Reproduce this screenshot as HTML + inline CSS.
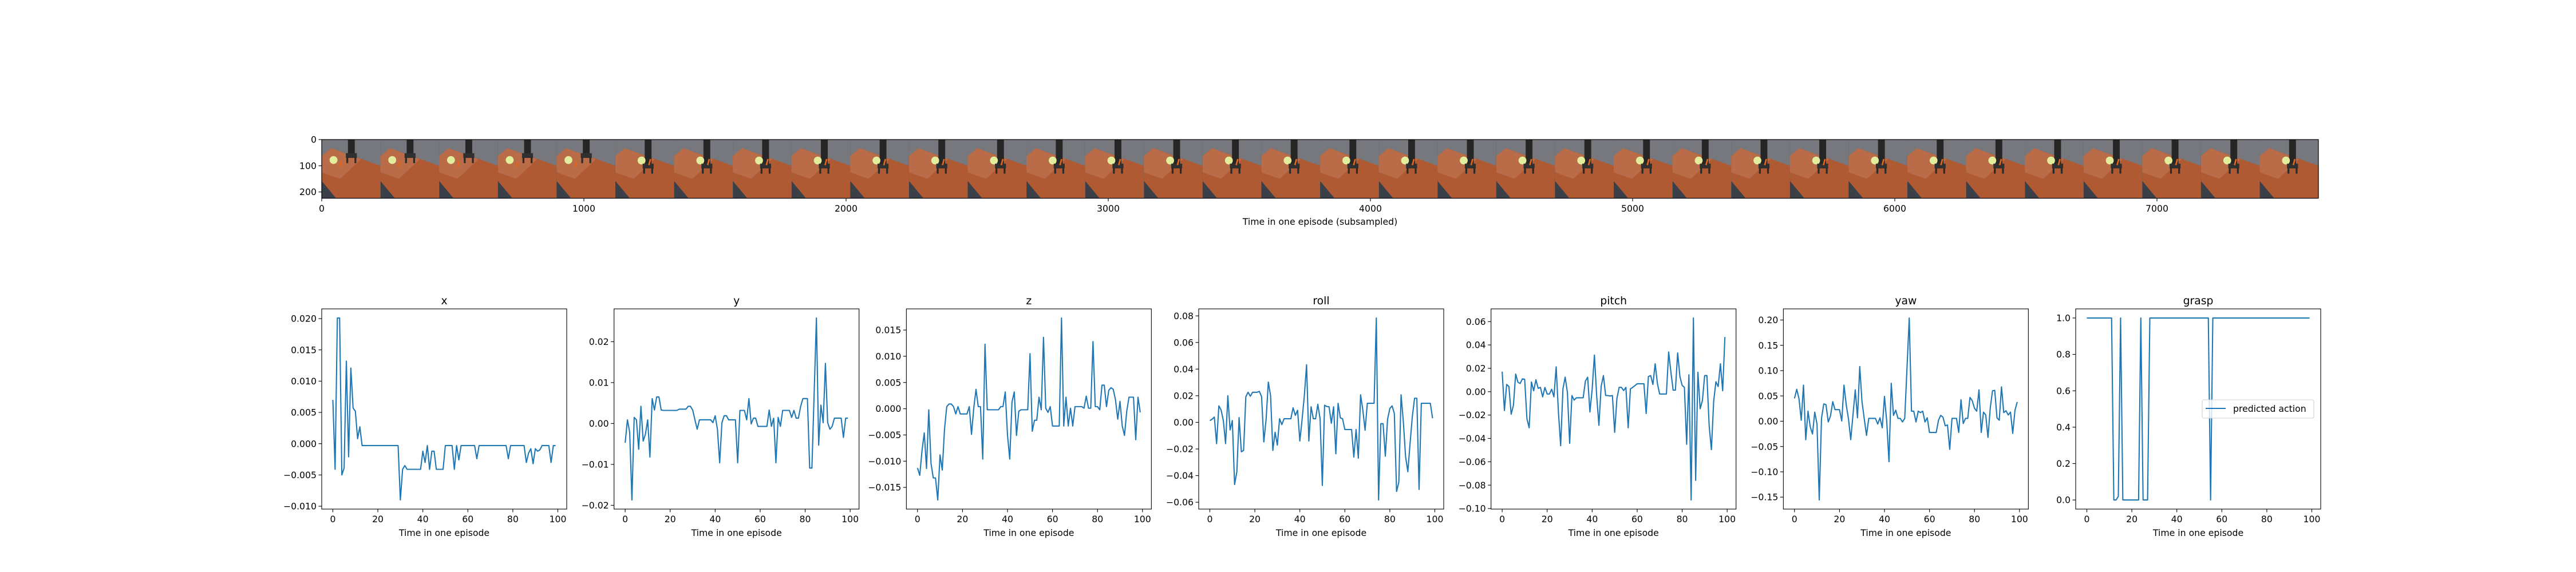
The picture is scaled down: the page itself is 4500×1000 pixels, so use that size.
<!DOCTYPE html>
<html><head><meta charset="utf-8"><style>
html,body{margin:0;padding:0;background:#fff;}
svg{display:block;font-family:"DejaVu Sans","Liberation Sans",sans-serif;}
</style></head><body>
<svg id="fig" width="4500" height="1000" viewBox="0 0 4500 1000" xmlns="http://www.w3.org/2000/svg">
<rect x="0" y="0" width="4500" height="1000" fill="#fff"/>
<defs>
<clipPath id="stripclip"><rect x="562" y="244" width="3488" height="102.6"/></clipPath>
</defs>
<g id="strip"></g>
<g id="panels"></g>
</svg>
<script>
// ---------- data ----------
const panelTitles = ["x","y","z","roll","pitch","yaw","grasp"];
const seriesX = [0.0070,-0.0041,0.0201,0.0201,-0.0050,-0.0039,0.0132,-0.0021,0.0121,0.0057,0.0052,0.0008,0.0027,-0.0003,-0.0003,-0.0003,-0.0003,-0.0003,-0.0003,-0.0003,-0.0003,-0.0003,-0.0003,-0.0003,-0.0003,-0.0003,-0.0003,-0.0003,-0.0003,-0.0003,-0.0090,-0.0041,-0.0035,-0.0041,-0.0041,-0.0041,-0.0041,-0.0041,-0.0041,-0.0041,-0.0012,-0.0030,-0.0003,-0.0041,-0.0012,-0.0012,-0.0041,-0.0041,-0.0041,-0.0041,-0.0003,-0.0003,-0.0003,-0.0003,-0.0041,-0.0003,-0.0026,-0.0003,-0.0003,-0.0003,-0.0003,-0.0003,-0.0003,-0.0003,-0.0024,-0.0003,-0.0003,-0.0003,-0.0003,-0.0003,-0.0003,-0.0003,-0.0003,-0.0003,-0.0003,-0.0003,-0.0003,-0.0003,-0.0024,-0.0003,-0.0003,-0.0003,-0.0003,-0.0003,-0.0003,-0.0003,-0.0030,-0.0015,-0.0008,-0.0032,-0.0008,-0.0012,-0.0010,-0.0003,-0.0003,-0.0003,-0.0003,-0.0030,-0.0003,-0.0003];
const seriesY = [-0.0047,0.0009,-0.0021,-0.0187,0.0015,0.0009,-0.0063,0.0042,-0.0043,-0.0026,0.0009,-0.0082,0.0061,0.0033,0.0065,0.0065,0.0033,0.0032,0.0032,0.0032,0.0032,0.0032,0.0032,0.0032,0.0035,0.0035,0.0035,0.0035,0.0042,0.0042,0.0033,0.0009,-0.0014,0.0009,0.0009,0.0009,0.0009,0.0009,0.0009,0.0002,0.0019,-0.0014,-0.0096,0.0002,0.0019,0.0019,0.0009,0.0009,0.0009,0.0009,-0.0096,0.0032,0.0032,0.0032,0.0009,0.0061,-0.0001,0.0013,0.0013,-0.0007,-0.0007,-0.0007,-0.0007,-0.0007,0.0033,-0.0007,0.0013,-0.0096,0.0015,-0.0007,0.0032,0.0032,0.0032,0.0032,0.0015,0.0032,0.0013,0.0013,0.0042,0.0061,0.0061,0.0061,-0.0109,-0.0109,0.0075,0.0258,-0.0053,0.0045,0.0002,0.0147,0.0002,-0.0014,-0.0007,0.0013,0.0013,0.0013,0.0013,-0.0034,0.0013,0.0013];
const seriesZ = [-0.0113,-0.0127,-0.0080,-0.0046,-0.0114,-0.0002,-0.0104,-0.0132,-0.0132,-0.0174,-0.0088,-0.0117,-0.0039,0.0004,0.0009,0.0009,0.0004,-0.0010,0.0004,-0.0010,-0.0010,-0.0010,-0.0010,0.0004,-0.0049,0.0001,0.0037,0.0004,0.0004,-0.0096,0.0123,-0.0002,-0.0002,-0.0002,-0.0002,-0.0002,-0.0002,0.0004,0.0004,0.0032,-0.0050,-0.0096,0.0013,0.0032,-0.0051,-0.0005,-0.0002,-0.0002,-0.0002,-0.0002,0.0105,-0.0043,-0.0022,-0.0022,0.0022,-0.0002,0.0136,0.0001,-0.0007,0.0004,-0.0033,-0.0033,-0.0033,-0.0033,0.0173,-0.0033,0.0022,-0.0033,0.0001,-0.0033,0.0004,0.0004,0.0004,0.0004,0.0001,0.0024,0.0001,0.0001,0.0128,0.0004,0.0004,-0.0002,0.0045,0.0045,0.0004,0.0035,0.0040,0.0037,0.0017,-0.0020,0.0014,-0.0033,-0.0051,-0.0005,0.0022,0.0022,0.0022,-0.0059,0.0022,-0.0007];
const seriesRoll = [0.0013,0.0024,0.0040,-0.016,0.0124,0.0093,0.0014,-0.016,0.020,-0.0057,0.0014,-0.0467,-0.0371,0.0036,-0.0221,-0.0211,0.0193,0.0226,0.0196,0.0226,0.0226,0.0226,0.0233,0.0193,-0.0147,0.0021,0.0303,0.020,-0.0211,-0.0074,-0.0171,0.0027,-0.0017,0.0027,0.0027,0.0027,0.0027,0.011,0.0053,0.0091,-0.014,0.0021,0.020,0.0433,-0.014,0.0117,0.0027,0.0027,0.0136,0.0027,-0.0474,0.0129,0.0119,0.0117,-0.0007,0.0117,-0.0236,0.0143,0.0034,0.0027,-0.0054,-0.0054,-0.0054,-0.0054,-0.0261,-0.0054,-0.0269,0.0207,0.0093,-0.0059,0.0143,0.0143,0.0143,0.0143,0.0784,-0.0583,-0.001,-0.001,-0.0254,0.0024,0.0104,0.0124,0.0067,-0.0519,-0.045,0.0207,0.0007,-0.0257,-0.0371,-0.0157,0.0043,0.0181,0.0181,-0.0504,0.0143,0.0143,0.0143,0.0143,0.0143,0.0031];
const seriesPitch = [0.0172,-0.0161,0.0062,0.0044,-0.0193,-0.0117,0.0151,0.0081,0.007,0.011,0.0106,-0.0231,-0.0309,0.0083,0.0008,0.0102,0.0029,0.0037,-0.0044,0.0036,-0.002,-0.002,0.0021,-0.0044,0.0213,-0.0174,-0.0463,0.0021,0.0125,-0.0007,-0.0442,-0.0033,-0.0072,-0.0052,-0.0052,-0.0052,-0.0052,0.0091,0.0124,-0.0174,0.0021,0.0314,-0.0033,-0.0288,0.0046,0.0138,-0.0033,-0.0033,-0.0037,-0.0033,-0.0348,-0.0057,0.0037,0.0037,0.001,0.0037,-0.0309,0.0024,0.0037,0.0052,0.0068,0.0068,0.0068,0.0068,-0.0187,0.013,0.0138,0.0062,0.0239,0.007,-0.002,-0.002,-0.002,-0.002,0.034,0.0167,0.0013,0.0013,0.0332,0.013,0.0054,0.0037,-0.045,0.0145,-0.0927,0.0631,-0.0759,0.0166,-0.0146,-0.0076,0.0138,0.0138,-0.0291,-0.0496,-0.0085,0.0085,0.0044,0.0239,0.0008,0.0468];
const seriesYaw = [0.0451,0.0632,0.0444,0.0019,0.0714,-0.0365,0.0199,-0.0113,-0.0252,0.018,-0.0056,-0.1556,0.0056,0.0342,0.0327,-0.0015,0.0105,0.0387,0.0229,0.0229,0.0229,0.0004,0.0714,0.032,0.0045,-0.0365,0.013,0.062,0.0068,0.108,0.0387,0.005,-0.028,0.0056,0.0056,0.0056,0.0056,-0.0056,0.0068,-0.013,0.049,-0.001,-0.080,0.075,0.0116,0.0218,0.0056,0.0056,-0.0015,0.0056,0.105,0.204,0.0199,0.0199,-0.0015,0.0199,0.017,0.0199,-0.0015,0.0068,-0.0222,-0.0222,-0.0222,-0.0222,0.0019,0.0116,0.0079,-0.009,-0.0075,-0.0556,0.0056,0.0056,0.0056,-0.0222,0.0425,-0.0045,0.0056,0.0056,0.047,0.0406,0.0256,0.0199,0.062,-0.0222,0.018,0.0124,-0.032,0.0256,0.06,0.061,0.0068,0.0019,0.068,0.017,0.0207,0.0124,0.018,-0.024,0.0218,0.038];
const seriesGrasp = [1,1,1,1,1,1,1,1,1,1,1,1,0,0,0.02,1,0,0,0,0,0,0,0,0,1,0,0,0,1,1,1,1,1,1,1,1,1,1,1,1,1,1,1,1,1,1,1,1,1,1,1,1,1,1,1,0,1,1,1,1,1,1,1,1,1,1,1,1,1,1,1,1,1,1,1,1,1,1,1,1,1,1,1,1,1,1,1,1,1,1,1,1,1,1,1,1,1,1,1,1];
const xTicks = [0,20,40,60,80,100];
const yTicksX = [-0.010,-0.005,0.000,0.005,0.010,0.015,0.020];
const yLabelsX = ["−0.010","−0.005","0.000","0.005","0.010","0.015","0.020"];
const yTicksY = [-0.02,-0.01,0,0.01,0.02];
const yLabelsY = ["−0.02","−0.01","0.00","0.01","0.02"];
const yTicksZ = [-0.015,-0.010,-0.005,0,0.005,0.010,0.015];
const yLabelsZ = ["−0.015","−0.010","−0.005","0.000","0.005","0.010","0.015"];
const yTicksRoll = [-0.06,-0.04,-0.02,0,0.02,0.04,0.06,0.08];
const yLabelsRoll = ["−0.06","−0.04","−0.02","0.00","0.02","0.04","0.06","0.08"];
const yTicksPitch = [-0.10,-0.08,-0.06,-0.04,-0.02,0,0.02,0.04,0.06];
const yLabelsPitch = ["−0.10","−0.08","−0.06","−0.04","−0.02","0.00","0.02","0.04","0.06"];
const yTicksYaw = [-0.15,-0.10,-0.05,0,0.05,0.10,0.15,0.20];
const yLabelsYaw = ["−0.15","−0.10","−0.05","0.00","0.05","0.10","0.15","0.20"];
const yTicksGrasp = [0,0.2,0.4,0.6,0.8,1.0];
const yLabelsGrasp = ["0.0","0.2","0.4","0.6","0.8","1.0"];
const stripXTicks = [0,1000,2000,3000,4000,5000,6000,7000];
const stripYTicks = [0,100,200];
const frameCount = 34;

const NS = "http://www.w3.org/2000/svg";
function mk(tag, attrs, parent){
  const e = document.createElementNS(NS, tag);
  for (const k in attrs) e.setAttribute(k, attrs[k]);
  if (parent) parent.appendChild(e);
  return e;
}
const FS = 15.7;

// ---------- strip ----------
const strip = document.getElementById('strip');
const SX0 = 562, SY0 = 244, SCALE = 0.458;
const frameW = 224;
const frames = mk('g', {'clip-path':'url(#stripclip)'}, strip);


for (let f = 0; f < frameCount; f++) {
  const g = mk('g', {transform: `translate(${SX0 + f*frameW*SCALE},${SY0}) scale(${SCALE})`}, frames);
  
  
  mk('rect', {x:0,y:0,width:224,height:224,fill:'#3a3f48'}, g);
  mk('rect', {x:0,y:0,width:224,height:120,fill:'#76787d'}, g);
  mk('polygon', {points:'0,63 36,33 224,100 224,224 55,224 0,158', fill:'#b05a33'}, g);
  mk('polygon', {points:'0,63 36,33 150,75 70,150 0,125', fill:'#c27656', opacity:'0.6'}, g);
  const late = f > 4;
  const ax = late ? 112 : 100;
  const ah = late ? 100 : 60;
  mk('rect', {x:ax, y:0, width:26, height:ah, fill:'#262626'}, g);
  mk('circle', {cx: late?100:45, cy: late?80:78, r:15, fill:'#e3ee9c'}, g);
  mk('rect', {x:ax-8, y:ah-8, width:42, height:18, fill:'#303030'}, g);
  mk('rect', {x:ax-6, y:ah+8, width:7, height:22, fill:'#2a2a2a'}, g);
  mk('rect', {x:ax+25, y:ah+8, width:7, height:22, fill:'#2a2a2a'}, g);
  mk('rect', {x: late?128:70, y: late?74:82, width:6, height:24, fill:'#e0661f', transform:`rotate(15 ${late?131:73} ${late?86:94})`}, g);
}
mk('rect', {x:SX0, y:SY0, width:3488, height:102.6, fill:'none', stroke:'#000', 'stroke-width':1.2}, strip);
stripXTicks.forEach(v => {
  const x = SX0 + v*SCALE;
  const t = mk('line', {x1:x, y1:346.6, x2:x, y2:352, stroke:'#000','stroke-width':1.1}, strip);
  
  
  const l = mk('text', {x:x, y:370, 'font-size':FS, 'text-anchor':'middle', fill:'#000'}, strip);
  l.textContent = v;
  
  
});
stripYTicks.forEach(v => {
  const y = SY0 + v*SCALE;
  mk('line', {x1:556.5, y1:y, x2:562, y2:y, stroke:'#000','stroke-width':1.1}, strip);
  const l = mk('text', {x:553, y:y+5.5, 'font-size':FS, 'text-anchor':'end', fill:'#000'}, strip);
  l.textContent = v;
  
  
});
const sxl = mk('text', {x:SX0+3488/2, y:393, 'font-size':FS, 'text-anchor':'middle', fill:'#000'}, strip);
sxl.textContent = 'Time in one episode (subsampled)';



// ---------- panels ----------
const panelsG = document.getElementById('panels');
const allSeries = [seriesX, seriesY, seriesZ, seriesRoll, seriesPitch, seriesYaw, seriesGrasp];
const allTicks = [yTicksX, yTicksY, yTicksZ, yTicksRoll, yTicksPitch, yTicksYaw, yTicksGrasp];
const allLabels = [yLabelsX, yLabelsY, yLabelsZ, yLabelsRoll, yLabelsPitch, yLabelsYaw, yLabelsGrasp];
const PT = 540, PB = 890, PW = 428;
for (let k = 0; k < 7; k++) {
  const L = 562 + k*510.67;
  const data = allSeries[k];
  const n = data.length;
  const g = mk('g', {}, panelsG);
  
  
  let mn = Math.min(...data), mx = Math.max(...data);
  const m = (mx - mn) * 0.05; mn -= m; mx += m;
  const xmin = -0.05*(n-1), xmax = (n-1)*1.05;
  const sx = v => L + (v - xmin)/(xmax - xmin)*PW;
  const sy = v => PB - (v - mn)/(mx - mn)*(PB - PT);
  let d = '';
  data.forEach((v,i) => { d += (i? 'L':'M') + sx(i).toFixed(2) + ',' + sy(v).toFixed(2); });
  const path = mk('path', {d:d, fill:'none', stroke:'#1f77b4', 'stroke-width':2.1, 'stroke-linejoin':'round'}, g);
  
  
  mk('rect', {x:L, y:PT, width:PW, height:PB-PT, fill:'none', stroke:'#000', 'stroke-width':1.1}, g);
  xTicks.forEach(v => {
    const x = sx(v);
    mk('line', {x1:x, y1:PB, x2:x, y2:PB+5.5, stroke:'#000','stroke-width':1.1}, g);
    const t = mk('text', {x:x, y:913, 'font-size':FS, 'text-anchor':'middle', fill:'#000'}, g);
    t.textContent = v;
    
    
  });
  allTicks[k].forEach((v, j) => {
    const y = sy(v);
    mk('line', {x1:L-5.5, y1:y, x2:L, y2:y, stroke:'#000','stroke-width':1.1}, g);
    const t = mk('text', {x:L-9, y:y+5.6, 'font-size':FS, 'text-anchor':'end', fill:'#000'}, g);
    t.textContent = allLabels[k][j];
    
    
  });
  const xl = mk('text', {x:L+PW/2, y:937, 'font-size':FS, 'text-anchor':'middle', fill:'#000'}, g);
  xl.textContent = 'Time in one episode';
  
  
  const tt = mk('text', {x:L+PW/2, y:532, 'font-size':18.8, 'text-anchor':'middle', fill:'#000'}, g);
  tt.textContent = panelTitles[k];
  
  
  if (k === 6) {
    const lg = mk('g', {}, g);
    
    
    mk('rect', {x:3847, y:699, width:195, height:32, rx:3, fill:'#fff', 'fill-opacity':0.8, stroke:'#d0d0d0', 'stroke-width':1.1}, lg);
    mk('line', {x1:3853, y1:714, x2:3888, y2:714, stroke:'#1f77b4', 'stroke-width':2.1}, lg);
    const lt = mk('text', {x:3901, y:720, 'font-size':FS, fill:'#000'}, lg);
    lt.textContent = 'predicted action';
    
    
  }
}
</script>
</body></html>
